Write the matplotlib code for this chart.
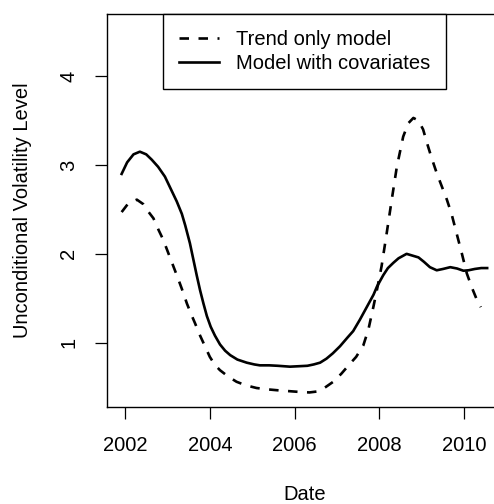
import matplotlib
matplotlib.use("Agg")
import matplotlib.pyplot as plt

plt.rcParams['font.family'] = ['Liberation Sans', 'DejaVu Sans']

# Model with covariates (solid)
cov_x = [2001.92, 2002.05, 2002.20, 2002.35, 2002.50, 2002.63, 2002.78, 2002.94,
         2003.08, 2003.22, 2003.34, 2003.42, 2003.53, 2003.61, 2003.69, 2003.77,
         2003.85, 2003.93, 2004.02, 2004.12, 2004.24, 2004.36, 2004.48, 2004.65,
         2004.87, 2005.05, 2005.18, 2005.40, 2005.60, 2005.89, 2006.10, 2006.30,
         2006.45, 2006.60, 2006.75, 2006.90, 2007.07, 2007.25, 2007.38, 2007.54,
         2007.70, 2007.86, 2007.94, 2008.09, 2008.20, 2008.33, 2008.45, 2008.64,
         2008.78, 2008.92, 2009.05, 2009.19, 2009.35, 2009.50, 2009.67, 2009.83,
         2009.98, 2010.10, 2010.25, 2010.40, 2010.54]
cov_y = [2.90, 3.03, 3.12, 3.15, 3.12, 3.06, 2.98, 2.87,
         2.73, 2.59, 2.45, 2.32, 2.12, 1.94, 1.76, 1.59,
         1.44, 1.30, 1.18, 1.08, 0.98, 0.91, 0.86, 0.81,
         0.775, 0.755, 0.745, 0.745, 0.74, 0.73, 0.735, 0.74,
         0.755, 0.775, 0.82, 0.88, 0.96, 1.06, 1.13, 1.26,
         1.40, 1.54, 1.63, 1.76, 1.84, 1.90, 1.95, 2.00,
         1.98, 1.96, 1.91, 1.85, 1.815, 1.83, 1.85, 1.835,
         1.81, 1.815, 1.83, 1.84, 1.84]

# Trend only model (dashed)
trend_x = [2001.92, 2002.08, 2002.28, 2002.43, 2002.55, 2002.67, 2002.79, 2002.90,
           2003.02, 2003.14, 2003.26, 2003.36, 2003.46, 2003.56, 2003.65, 2003.77,
           2003.89, 2004.00, 2004.12, 2004.24, 2004.43, 2004.63, 2004.85, 2005.10,
           2005.35, 2005.58, 2005.85, 2006.13, 2006.35, 2006.52, 2006.70, 2006.91,
           2007.10, 2007.30, 2007.45, 2007.62, 2007.74, 2007.86, 2007.96, 2008.05,
           2008.17, 2008.29, 2008.41, 2008.56, 2008.68, 2008.80, 2008.92, 2009.03,
           2009.12, 2009.23, 2009.35, 2009.47, 2009.59, 2009.70, 2009.82, 2009.94,
           2010.06, 2010.18, 2010.30, 2010.39]
trend_y = [2.47, 2.57, 2.61, 2.56, 2.475, 2.40, 2.27, 2.16,
           2.01, 1.86, 1.71, 1.58, 1.44, 1.32, 1.22, 1.08,
           0.955, 0.84, 0.75, 0.69, 0.62, 0.56, 0.52, 0.49,
           0.475, 0.465, 0.455, 0.445, 0.44, 0.45, 0.49, 0.56,
           0.65, 0.76, 0.84, 0.97, 1.15, 1.41, 1.64, 1.86,
           2.23, 2.61, 2.98, 3.32, 3.47, 3.53, 3.50, 3.40,
           3.25, 3.08, 2.91, 2.76, 2.61, 2.45, 2.23, 2.01,
           1.78, 1.62, 1.48, 1.40]

x_ticks = [2002, 2004, 2006, 2008, 2010]
y_ticks = [1, 2, 3, 4]
labels = ["Trend only model", "Model with covariates"]

fig = plt.figure(figsize=(4.94, 5.04), dpi=100)
W, H = 494, 504
left, right, bottom, top = 107, 502, 407, 14
ax = fig.add_axes([left / W, 1 - bottom / H, (right - left) / W, (bottom - top) / H])

ax.plot(trend_x, trend_y, color='black', lw=1.9, linestyle=(0, (3.6, 3.6)),
        label=labels[0], solid_joinstyle='round')
ax.plot(cov_x, cov_y, color='black', lw=1.9, label=labels[1], solid_joinstyle='round')

ax.set_xlim(2001.575, 2010.89)
ax.set_ylim(0.276, 4.70)
ax.set_xticks(x_ticks)
ax.set_yticks(y_ticks)
ax.set_xticklabels([str(t) for t in x_ticks])
ax.set_yticklabels([str(t) for t in y_ticks], rotation=90, va='center')

fs = 14.5
ax.tick_params(axis='both', direction='out', length=8.6, width=0.9, labelsize=fs, color='black')
ax.tick_params(axis='x', pad=12)
ax.tick_params(axis='y', pad=12)
for s in ax.spines.values():
    s.set_linewidth(1.0)

ax.set_xlabel("Date", fontsize=fs, labelpad=22)
ax.set_ylabel("Unconditional Volatility Level", fontsize=fs, labelpad=20)

x0 = (162.7 - left) / (right - left)
x1 = (446 - left) / (right - left)
leg = ax.legend(loc='upper left', bbox_to_anchor=(x0, 0.0, x1 - x0, 1.0), mode='expand',
                fontsize=fs, frameon=True, fancybox=False, edgecolor='black', framealpha=1,
                handlelength=2.0, handletextpad=0.85, borderpad=0.8, labelspacing=0.25,
                borderaxespad=0.0)
leg.get_frame().set_linewidth(1.0)

fig.savefig("out.png", dpi=100)
